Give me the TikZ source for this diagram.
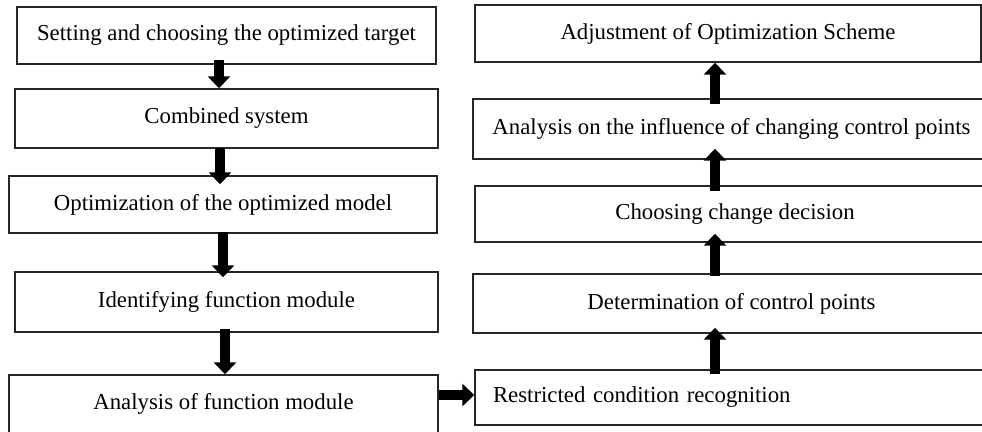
\documentclass[tikz,border=0pt]{standalone}
\usepackage{fontspec}
\setmainfont{Liberation Serif}
\usetikzlibrary{arrows.meta}
\begin{document}
\begin{tikzpicture}[x=1pt,y=-1pt,
  box/.style={draw=black!85,line width=1.4pt,rectangle,inner sep=0pt,
    font=\fontsize{22.8}{27}\selectfont,text=black},
  bigarrow/.style={line width=10pt,-{Triangle[width=22pt,length=12pt]},black}]
\useasboundingbox (0,0) rectangle (982,431);
\clip (0,0) rectangle (982,431);
% left column
\node[box,minimum width=419pt,minimum height=57pt] (l1) at (226.5,35.5) {Setting and choosing the optimized target};
\node[box,minimum width=423pt,minimum height=59pt] (l2) at (226.5,118.5) {Combined system};
\node[box,minimum width=428pt,minimum height=57pt] (l3) at (223,204.5) {Optimization of the optimized model};
\node[box,minimum width=423pt,minimum height=60pt] (l4) at (226.5,302) {Identifying function module};
\node[box,minimum width=429pt,minimum height=58pt] (l5) at (223.5,404) {Analysis of function module};
% right column
\node[box,minimum width=506pt,minimum height=57pt] (r1) at (728,33.5) {Adjustment of Optimization Scheme};
\node[box,minimum width=517pt,minimum height=60pt] (r2) at (731.5,129) {Analysis on the influence of changing control points};
\node[box,minimum width=520pt,minimum height=56pt] (r3) at (735,214) {Choosing change decision};
\node[box,minimum width=517pt,minimum height=59pt] (r4) at (731.5,303.5) {Determination of control points};
\node[box,minimum height=55pt,inner xsep=18pt,text width=479pt,align=left] (r5) at (732.5,397.5) {Restricted condition recognition};
% arrows left
\draw[bigarrow] ([xshift=-7.5pt,yshift=5pt]l1.south) -- ([xshift=-7.5pt]l2.north);
\draw[bigarrow] ([xshift=-6.5pt,yshift=1pt]l2.south) -- ([xshift=-3pt,yshift=-9pt]l3.north);
\draw[bigarrow] ([yshift=2pt]l3.south) -- ([xshift=-3.5pt,yshift=-6pt]l4.north);
\draw[bigarrow] ([xshift=-1.5pt,yshift=4pt]l4.south) -- ([xshift=1.5pt]l5.north);
% horizontal
\draw[bigarrow] ([yshift=9pt]l5.east) -- ([yshift=9pt]l5.east -| r5.west);
% arrows right
\draw[bigarrow] ([xshift=-16.5pt,yshift=-6pt]r2.north) -- ([xshift=-13pt]r1.south);
\draw[bigarrow] ([xshift=-20pt,yshift=-6pt]r3.north) -- ([xshift=-16.5pt,yshift=11pt]r2.south);
\draw[bigarrow] ([xshift=-16.5pt,yshift=-3pt]r4.north) -- ([xshift=-20pt,yshift=9pt]r3.south);
\draw[bigarrow] ([xshift=-17.5pt,yshift=-5pt]r5.north) -- ([xshift=-16.5pt,yshift=6pt]r4.south);
\end{tikzpicture}
\end{document}
